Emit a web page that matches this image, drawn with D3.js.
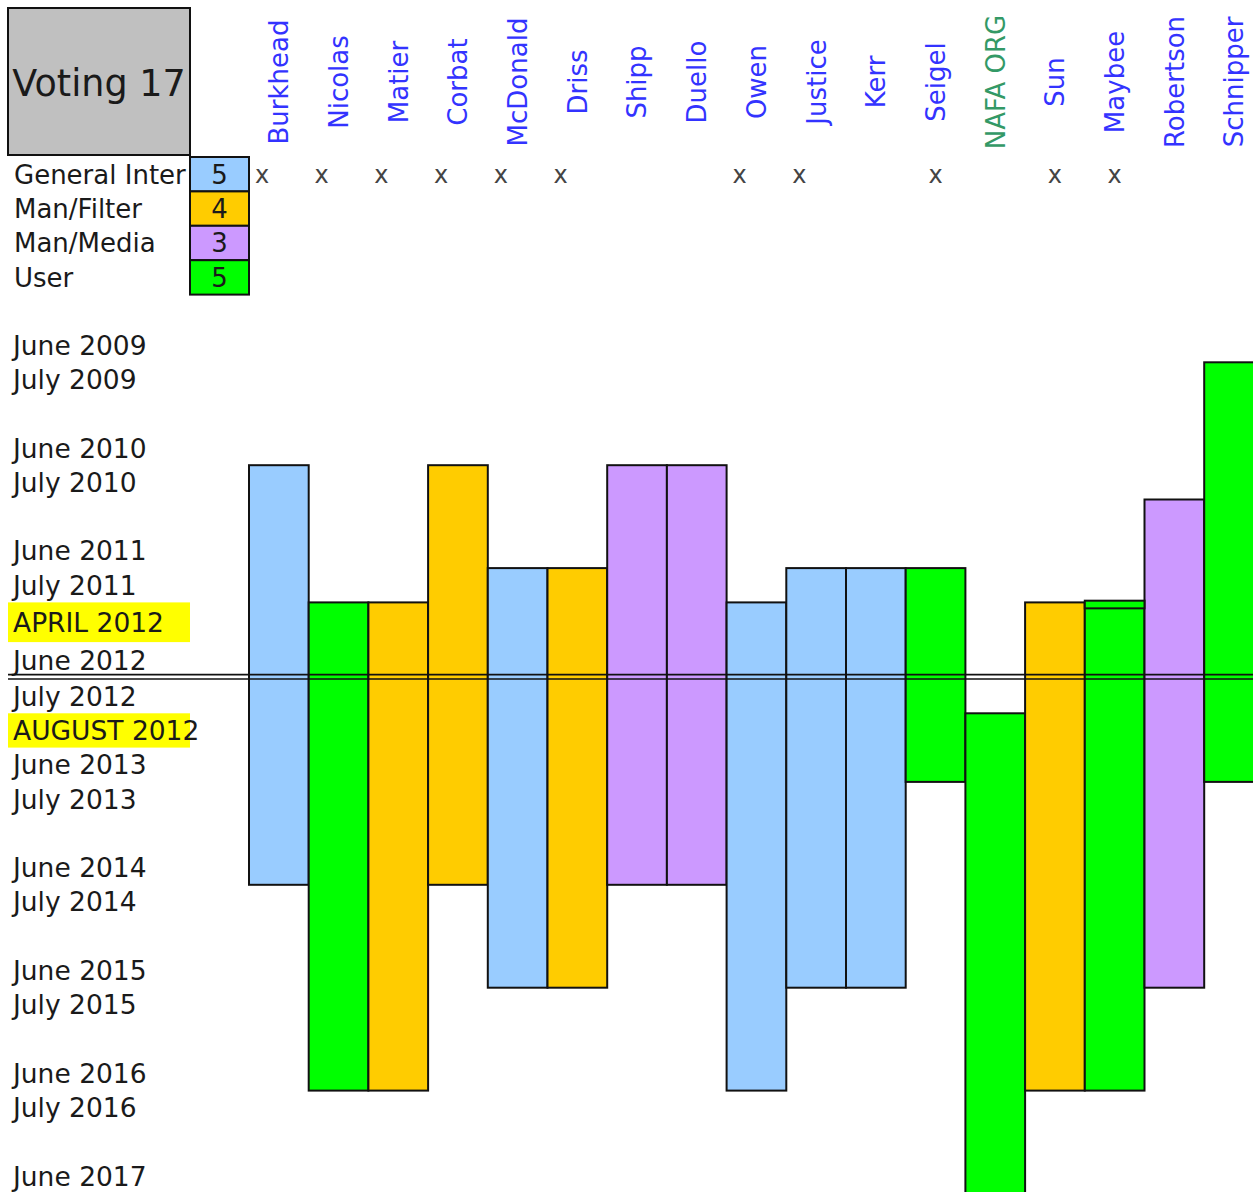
<!DOCTYPE html>
<html>
<head>
<meta charset="utf-8">
<script src="https://cdn.jsdelivr.net/npm/d3@7"></script>
<style>
  body { margin: 0; background: #fff; }
  svg text { font-family: "DejaVu Sans", Verdana, sans-serif; }
</style>
</head>
<body>
<div id="chart"></div>
<script>
// columns of the sheet, one per voting member
const members = ["Burkhead","Nicolas","Matier","Corbat","McDonald","Driss","Shipp","Duello","Owen","Justice","Kerr","Seigel","NAFA ORG","Sun","Maybee","Robertson","Schnipper"];
const memberGroup = ["General Interest","User","Man/Filter","Man/Filter","General Interest","Man/Filter","Man/Media","Man/Media","General Interest","General Interest","General Interest","User","User","Man/Filter","User","Man/Media","User"];
// first and last sheet row of each term (index into rowLabels)
const termFirstRow = [4,8,8,4,7,7,4,4,8,7,7,7,11,8,8,5,1];
const termLastRow  = [15,21,21,15,18,18,15,15,21,18,18,12,24,21,21,18,12];
// "x" marks in the General Interest line (some sit at the cell's left, some centred)
const markLeft = ["Burkhead","Nicolas","Matier","Corbat","McDonald","Driss","Owen","Justice"];
const markCentre = ["Seigel","Sun","Maybee"];
// small extra cell drawn on top of a term
const stripMember = ["Maybee"];
const stripFrom = [7.95];
const stripTo = [8.15];

const groups = ["General Interest","Man/Filter","Man/Media","User"];
const groupColors = ["#99ccff","#ffcc00","#cc99ff","#00ff00"];

const rowLabels = ["June 2009","July 2009","","June 2010","July 2010","","June 2011","July 2011","APRIL 2012","June 2012","July 2012","AUGUST 2012","June 2013","July 2013","","June 2014","July 2014","","June 2015","July 2015","","June 2016","July 2016","","June 2017"];
const highlightRows = ["APRIL 2012","AUGUST 2012"];
const splitRow = 10;   // double line sits above this row

const W = 1253, H = 1192;
const svg = d3.select("#chart").append("svg").attr("width", W).attr("height", H);

const color = d3.scaleOrdinal().domain(groups).range(groupColors);
const x = d3.scaleBand().domain(members).range([249, 249 + members.length * 59.7]);
const yLin = d3.scaleLinear().domain([0, rowLabels.length]).range([328, 328 + rowLabels.length * 34.3]);
// the APRIL row is a bit taller and the double line adds a gap
const rowY = r => yLin(r) + 5.4 * Math.max(0, Math.min(1, r - 8)) + (r >= splitRow ? 2.6 : 0);

// highlighted row labels
svg.append("g").selectAll("rect")
  .data(rowLabels.map((l, i) => ({l, i})).filter(d => highlightRows.includes(d.l)))
  .enter().append("rect")
  .attr("x", 8).attr("width", 182)
  .attr("y", d => rowY(d.i))
  .attr("height", d => rowY(d.i + 1) - rowY(d.i))
  .attr("fill", "#ffff00");

svg.append("g").selectAll("text")
  .data(rowLabels.map((l, i) => ({l, i})).filter(d => d.l))
  .enter().append("text")
  .attr("x", 13)
  .attr("y", d => (rowY(d.i) + rowY(d.i + 1)) / 2)
  .attr("dy", "0.36em")
  .attr("font-size", 26.5)
  .attr("fill", "#1a1a1a")
  .text(d => d.l);

// terms
const terms = members.map((m, i) => ({m, g: memberGroup[i], a: termFirstRow[i], b: termLastRow[i] + 1}));
svg.append("g").selectAll("rect")
  .data(terms)
  .enter().append("rect")
  .attr("x", d => x(d.m))
  .attr("width", x.bandwidth())
  .attr("y", d => rowY(d.a))
  .attr("height", d => rowY(d.b) - rowY(d.a))
  .attr("fill", d => color(d.g))
  .attr("stroke", "#111")
  .attr("stroke-width", 2);

svg.append("g").selectAll("rect")
  .data(stripMember.map((m, i) => ({m, a: stripFrom[i], b: stripTo[i]})))
  .enter().append("rect")
  .attr("x", d => x(d.m))
  .attr("width", x.bandwidth())
  .attr("y", d => rowY(d.a))
  .attr("height", d => rowY(d.b) - rowY(d.a))
  .attr("fill", d => color(memberGroup[members.indexOf(d.m)]))
  .attr("stroke", "#111")
  .attr("stroke-width", 2);

// double line
const splitY = rowY(splitRow);
[splitY - 4.4, splitY].forEach(yy => {
  svg.append("line").attr("x1", 8).attr("x2", W).attr("y1", yy).attr("y2", yy)
    .attr("stroke", "#111").attr("stroke-width", 1.6);
});

// legend block
const legY = d3.scaleBand().domain(groups).range([157, 157 + groups.length * 34.4]);
const counts = d3.rollup(memberGroup, v => v.length, d => d);

svg.append("clipPath").attr("id", "labclip")
  .append("rect").attr("x", 0).attr("y", 150).attr("width", 190).attr("height", 160);

// cell text is cut at the cell edge like in the sheet
svg.append("g").attr("clip-path", "url(#labclip)").selectAll("text")
  .data(groups)
  .enter().append("text")
  .attr("x", 14)
  .attr("y", d => legY(d) + legY.bandwidth() / 2)
  .attr("dy", "0.36em")
  .attr("font-size", 26)
  .attr("fill", "#1a1a1a")
  .text(d => d)
  .each(function() {
    const t = d3.select(this);
    let s = t.text();
    while (this.getComputedTextLength() > 182 && s.length > 1) {
      s = s.slice(0, -1);
      t.text(s);
    }
  });

svg.append("g").selectAll("rect")
  .data(groups)
  .enter().append("rect")
  .attr("x", 190).attr("width", 59)
  .attr("y", d => legY(d))
  .attr("height", legY.bandwidth())
  .attr("fill", d => color(d))
  .attr("stroke", "#111")
  .attr("stroke-width", 2);

svg.append("g").selectAll("text")
  .data(groups)
  .enter().append("text")
  .attr("x", 219.5)
  .attr("y", d => legY(d) + legY.bandwidth() / 2)
  .attr("dy", "0.36em")
  .attr("text-anchor", "middle")
  .attr("font-size", 26)
  .attr("fill", "#1a1a1a")
  .text(d => counts.get(d) || 0);

const markY = legY(groups[0]) + legY.bandwidth() / 2;
svg.append("g").selectAll("text")
  .data(markLeft.map(m => ({m, c: false})).concat(markCentre.map(m => ({m, c: true}))))
  .enter().append("text")
  .attr("x", d => d.c ? x(d.m) + x.bandwidth() / 2 : x(d.m) + 13)
  .attr("y", markY)
  .attr("dy", "0.36em")
  .attr("text-anchor", "middle")
  .attr("font-size", 24)
  .attr("fill", "#444")
  .text("x");

// header box
svg.append("rect")
  .attr("x", 8).attr("y", 8).attr("width", 182).attr("height", 147)
  .attr("fill", "#c0c0c0").attr("stroke", "#111").attr("stroke-width", 2);
svg.append("text")
  .attr("x", 99).attr("y", 83).attr("dy", "0.36em")
  .attr("text-anchor", "middle")
  .attr("font-size", 36.5)
  .attr("fill", "#1a1a1a")
  .text("Voting " + members.length);

// member names
const nameAxis = svg.append("g").attr("transform", "translate(0,82)")
  .call(d3.axisTop(x).tickSize(0));
nameAxis.select(".domain").remove();
nameAxis.selectAll("text")
  .attr("y", 0).attr("x", 0)
  .attr("dy", "0.36em")
  .attr("transform", "rotate(-90)")
  .attr("text-anchor", "middle")
  .attr("font-size", 26)
  .attr("font-family", "DejaVu Sans, Verdana, sans-serif")
  .attr("fill", d => d === "NAFA ORG" ? "#339966" : "#3333ff");
</script>
</body>
</html>
